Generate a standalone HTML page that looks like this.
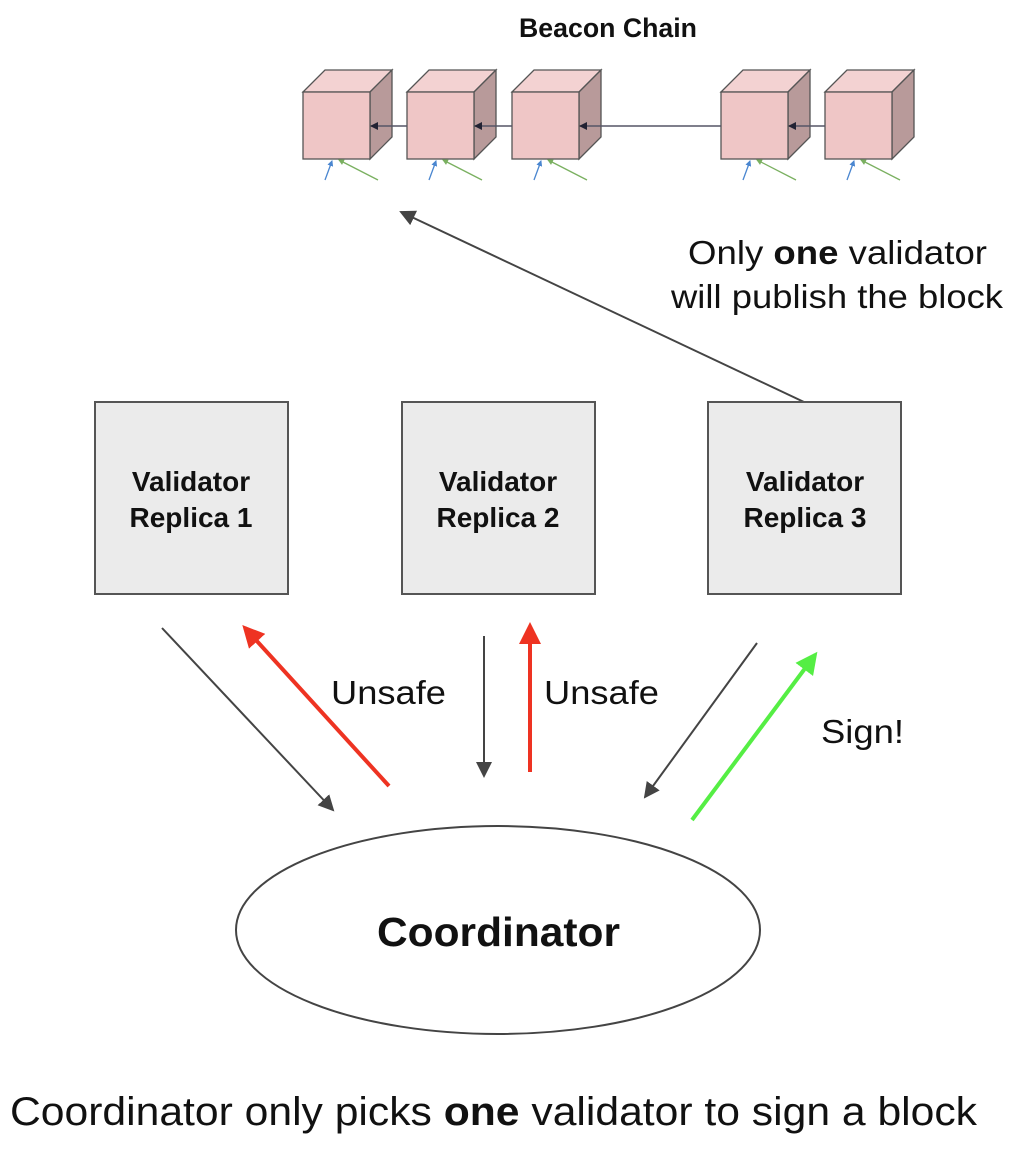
<!DOCTYPE html>
<html><head><style>body{margin:0;background:#fff}svg{display:block}</style></head><body>
<svg width="1018" height="1152" viewBox="0 0 1018 1152" font-family="Liberation Sans, Arial, sans-serif">
<defs>
<marker id="ag" markerWidth="8" markerHeight="8" refX="7" refY="4" orient="auto" markerUnits="userSpaceOnUse"><path d="M0,0 L8,4 L0,8 z" fill="#223"/></marker>
<marker id="ar" markerWidth="22" markerHeight="22" refX="18" refY="11" orient="auto" markerUnits="userSpaceOnUse"><path d="M0,0 L22,11 L0,22 z" fill="#ee3322"/></marker>
<marker id="agn" markerWidth="22" markerHeight="22" refX="18" refY="11" orient="auto" markerUnits="userSpaceOnUse"><path d="M0,0 L22,11 L0,22 z" fill="#55ee44"/></marker>
<marker id="ad" markerWidth="16" markerHeight="16" refX="14" refY="8" orient="auto" markerUnits="userSpaceOnUse"><path d="M0,0 L16,8 L0,16 z" fill="#444"/></marker>
<marker id="ab" markerWidth="6" markerHeight="6" refX="5" refY="3" orient="auto" markerUnits="userSpaceOnUse"><path d="M0,0 L6,3 L0,6 z" fill="#4a86d0"/></marker>
<marker id="agr" markerWidth="6" markerHeight="6" refX="5" refY="3" orient="auto" markerUnits="userSpaceOnUse"><path d="M0,0 L6,3 L0,6 z" fill="#7ab060"/></marker>
</defs>
<text x="519" y="37" font-size="27" font-weight="bold" fill="#111" textLength="178" lengthAdjust="spacingAndGlyphs">Beacon Chain</text>
<g stroke="#555" stroke-width="1.3">
<g transform="translate(303,0)"><path d="M0,92 L22,70 L89,70 L67,92 Z" fill="#f3d2d2"/><path d="M67,92 L89,70 L89,137 L67,159 Z" fill="#b89a9a"/><rect x="0" y="92" width="67" height="67" fill="#efc6c6"/></g>
<g transform="translate(407,0)"><path d="M0,92 L22,70 L89,70 L67,92 Z" fill="#f3d2d2"/><path d="M67,92 L89,70 L89,137 L67,159 Z" fill="#b89a9a"/><rect x="0" y="92" width="67" height="67" fill="#efc6c6"/></g>
<g transform="translate(512,0)"><path d="M0,92 L22,70 L89,70 L67,92 Z" fill="#f3d2d2"/><path d="M67,92 L89,70 L89,137 L67,159 Z" fill="#b89a9a"/><rect x="0" y="92" width="67" height="67" fill="#efc6c6"/></g>
<g transform="translate(721,0)"><path d="M0,92 L22,70 L89,70 L67,92 Z" fill="#f3d2d2"/><path d="M67,92 L89,70 L89,137 L67,159 Z" fill="#b89a9a"/><rect x="0" y="92" width="67" height="67" fill="#efc6c6"/></g>
<g transform="translate(825,0)"><path d="M0,92 L22,70 L89,70 L67,92 Z" fill="#f3d2d2"/><path d="M67,92 L89,70 L89,137 L67,159 Z" fill="#b89a9a"/><rect x="0" y="92" width="67" height="67" fill="#efc6c6"/></g>
</g>
<g stroke="#556" stroke-width="1.5">
<line x1="407" y1="126" x2="371" y2="126" marker-end="url(#ag)"/>
<line x1="512" y1="126" x2="475" y2="126" marker-end="url(#ag)"/>
<line x1="721" y1="126" x2="580" y2="126" marker-end="url(#ag)"/>
<line x1="825" y1="126" x2="789" y2="126" marker-end="url(#ag)"/>
</g>
<g stroke-width="1.3">
<g><line x1="325" y1="180" x2="332" y2="161" stroke="#4a86d0" marker-end="url(#ab)"/><line x1="378" y1="180" x2="339" y2="160" stroke="#7ab060" marker-end="url(#agr)"/></g>
<g transform="translate(104,0)"><line x1="325" y1="180" x2="332" y2="161" stroke="#4a86d0" marker-end="url(#ab)"/><line x1="378" y1="180" x2="339" y2="160" stroke="#7ab060" marker-end="url(#agr)"/></g>
<g transform="translate(209,0)"><line x1="325" y1="180" x2="332" y2="161" stroke="#4a86d0" marker-end="url(#ab)"/><line x1="378" y1="180" x2="339" y2="160" stroke="#7ab060" marker-end="url(#agr)"/></g>
<g transform="translate(418,0)"><line x1="325" y1="180" x2="332" y2="161" stroke="#4a86d0" marker-end="url(#ab)"/><line x1="378" y1="180" x2="339" y2="160" stroke="#7ab060" marker-end="url(#agr)"/></g>
<g transform="translate(522,0)"><line x1="325" y1="180" x2="332" y2="161" stroke="#4a86d0" marker-end="url(#ab)"/><line x1="378" y1="180" x2="339" y2="160" stroke="#7ab060" marker-end="url(#agr)"/></g>
</g>
<line x1="804" y1="402" x2="401" y2="212" stroke="#444" stroke-width="2" marker-end="url(#ad)"/>
<text x="688" y="264" font-size="33" fill="#111" textLength="299" lengthAdjust="spacingAndGlyphs">Only <tspan font-weight="bold">one</tspan> validator</text>
<text x="671" y="308" font-size="33" fill="#111" textLength="332" lengthAdjust="spacingAndGlyphs">will publish the block</text>
<g fill="#ebebeb" stroke="#555" stroke-width="2">
<rect x="95" y="402" width="193" height="192"/>
<rect x="402" y="402" width="193" height="192"/>
<rect x="708" y="402" width="193" height="192"/>
</g>
<g font-size="28" font-weight="bold" text-anchor="middle" fill="#111">
<text x="191" y="491">Validator</text><text x="191" y="527">Replica 1</text>
<text x="498" y="491">Validator</text><text x="498" y="527">Replica 2</text>
<text x="805" y="491">Validator</text><text x="805" y="527">Replica 3</text>
</g>
<g stroke="#444" stroke-width="2">
<line x1="162" y1="628" x2="333" y2="810" marker-end="url(#ad)"/>
<line x1="484" y1="636" x2="484" y2="776" marker-end="url(#ad)"/>
<line x1="757" y1="643" x2="645" y2="797" marker-end="url(#ad)"/>
</g>
<line x1="389" y1="786" x2="245" y2="628" stroke="#ee3322" stroke-width="4" marker-end="url(#ar)"/>
<line x1="530" y1="772" x2="530" y2="626" stroke="#ee3322" stroke-width="4" marker-end="url(#ar)"/>
<line x1="692" y1="820" x2="815" y2="655" stroke="#55ee44" stroke-width="4" marker-end="url(#agn)"/>
<g font-size="33" fill="#111">
<text x="331" y="704" textLength="115" lengthAdjust="spacingAndGlyphs">Unsafe</text>
<text x="544" y="704" textLength="115" lengthAdjust="spacingAndGlyphs">Unsafe</text>
<text x="821" y="743" textLength="83" lengthAdjust="spacingAndGlyphs">Sign!</text>
</g>
<ellipse cx="498" cy="930" rx="262" ry="104" fill="#fff" stroke="#444" stroke-width="2"/>
<text x="377" y="946" font-size="41" font-weight="bold" fill="#111" textLength="243" lengthAdjust="spacingAndGlyphs">Coordinator</text>
<text x="10" y="1125" font-size="40" fill="#111" textLength="967" lengthAdjust="spacingAndGlyphs">Coordinator only picks <tspan font-weight="bold">one</tspan> validator to sign a block</text>
</svg>
</body></html>
